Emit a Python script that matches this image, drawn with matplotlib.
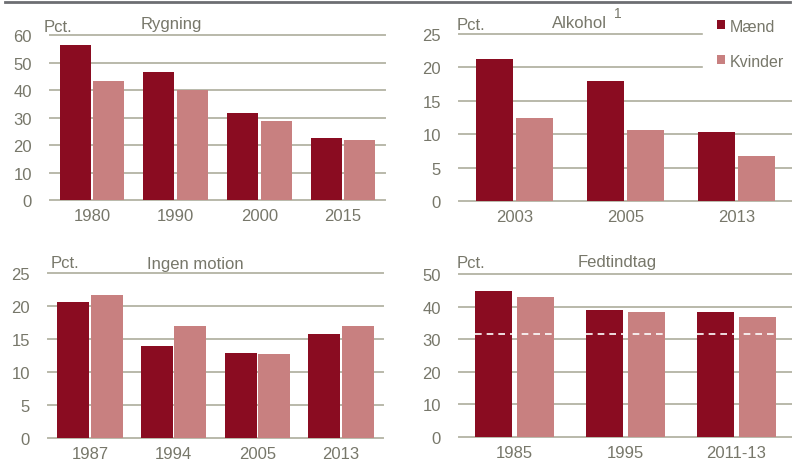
import matplotlib as mpl
mpl.use("Agg")
import matplotlib.pyplot as plt
import numpy as np
from matplotlib.lines import Line2D

plt.rcParams["font.family"] = ["Liberation Sans", "DejaVu Sans"]
plt.rcParams["font.size"] = 12

DARK = "#8a0c21"
LIGHT = "#c88080"
GRID = "#b9b9aa"
TXT = "#77776a"

# data
rygning_aar = ["1980", "1990", "2000", "2015"]
rygning_maend = [56.5, 46.5, 31.7, 22.6]
rygning_kvinder = [43.4, 39.9, 28.6, 21.8]

alkohol_aar = ["2003", "2005", "2013"]
alkohol_maend = [21.2, 17.9, 10.3]
alkohol_kvinder = [12.5, 10.6, 6.7]

motion_aar = ["1987", "1994", "2005", "2013"]
motion_maend = [20.6, 14.0, 12.9, 15.7]
motion_kvinder = [21.7, 17.0, 12.7, 17.0]

fedt_aar = ["1985", "1995", "2011-13"]
fedt_maend = [44.9, 38.9, 38.2]
fedt_kvinder = [43.0, 38.2, 36.9]
fedt_anbefaling = 31.5

W, H = 792, 464
fig = plt.figure(figsize=(W / 100, H / 100), dpi=100)


def box(x0, x1, y0, y1):
    # pixel box -> figure fraction [left, bottom, width, height]
    return [x0 / W, 1 - y1 / H, (x1 - x0) / W, (y1 - y0) / H]


def ftext(x, y, s, **kw):
    fig.text(x / W, 1 - y / H, s, color=TXT, va="center", ha="left", **kw)


def panel(rect, labels, m, k, ymax, step, width, off):
    ax = fig.add_axes(rect)
    x = np.arange(len(labels))
    ax.bar(x - off, m, width, color=DARK, zorder=3, label="Mænd")
    ax.bar(x + off, k, width, color=LIGHT, zorder=3, label="Kvinder")
    ax.set_xlim(-0.5, len(labels) - 0.5)
    ax.set_ylim(0, ymax)
    ax.set_yticks(np.arange(0, ymax + 1, step))
    ax.set_xticks(x)
    ax.set_xticklabels(labels)
    ax.yaxis.grid(True, color=GRID, lw=1.4, zorder=0)
    ax.set_axisbelow(True)
    for s in ax.spines.values():
        s.set_visible(False)
    ax.tick_params(axis="y", length=0, pad=13, colors=TXT, labelsize=12)
    ax.tick_params(axis="x", length=0, pad=6, colors=TXT, labelsize=12)
    for gl in ax.get_ygridlines():
        gl.set_clip_on(False)
    return ax


ax1 = panel(box(50, 385, 36, 201), rygning_aar, rygning_maend, rygning_kvinder,
            60, 10, 0.37, 0.2)
ftext(44, 27, "Pct.")
ftext(141, 25, "Rygning")

ax2 = panel(box(459, 792, 35, 202), alkohol_aar, alkohol_maend, alkohol_kvinder,
            25, 5, 0.33, 0.18)
ftext(457, 26, "Pct.")
ftext(552, 24, "Alkohol")
ftext(614, 14, "1", fontsize=10)
ax2.legend(loc="upper left", bbox_to_anchor=(703 / W, 1 - 6 / H),
           bbox_transform=fig.transFigure, frameon=True, facecolor="white",
           edgecolor="white", framealpha=1, fancybox=False,
           fontsize=11.5, labelcolor=TXT, handlelength=0.5, handleheight=0.5,
           handletextpad=0.3, labelspacing=1.25, borderpad=0.85, borderaxespad=0)

ax3 = panel(box(48, 383, 274, 439), motion_aar, motion_maend, motion_kvinder,
            25, 5, 0.38, 0.2)
ftext(51, 264, "Pct.")
ftext(147, 264, "Ingen motion")

ax4 = panel(box(459, 792, 275, 438), fedt_aar, fedt_maend, fedt_kvinder,
            50, 10, 0.34, 0.19)
xs = np.arange(len(fedt_aar))
ax4.hlines([fedt_anbefaling] * len(xs), xs - 0.19 - 0.17, xs + 0.19 + 0.17,
           colors="white", linestyles=(0, (4, 3)), lw=1.2, zorder=4)
ftext(457, 264, "Pct.")
ftext(578, 262, "Fedtindtag")

fig.add_artist(Line2D([5 / W, 790 / W], [1 - 3 / H, 1 - 3 / H],
                      color="#6d6e72", lw=2))

fig.savefig("out.png", dpi=100)
